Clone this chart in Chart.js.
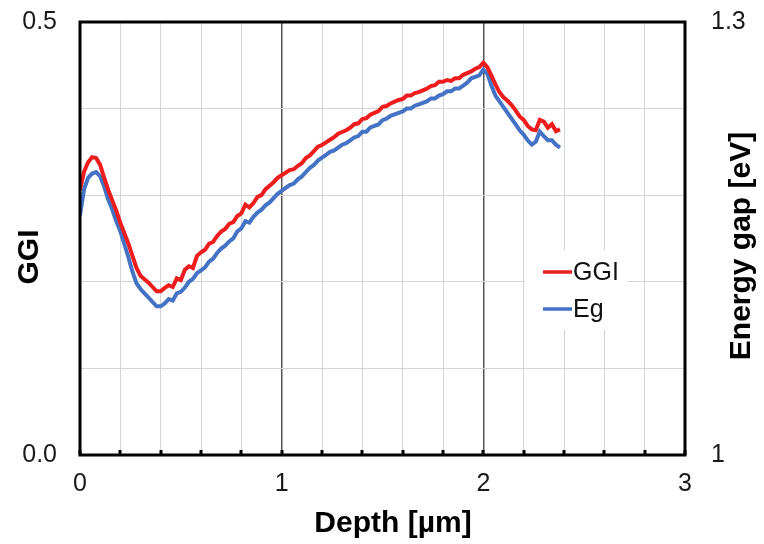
<!DOCTYPE html>
<html>
<head>
<meta charset="utf-8">
<script src="https://cdn.jsdelivr.net/npm/chart.js@4.4.1/dist/chart.umd.min.js"></script>
<style>
  html, body { margin: 0; padding: 0; background: #fff; }
  #wrap { width: 764px; height: 544px; }
</style>
</head>
<body>
<div id="wrap"><canvas id="c" width="764" height="544"></canvas></div>
<script>
// Depth profile (µm) with GGI on the left axis and band gap on the right axis
const depth = [
  0.00, 0.02, 0.04, 0.06, 0.08, 0.10, 0.12, 0.14, 0.16, 0.18,
  0.20, 0.22, 0.24, 0.26, 0.28, 0.30, 0.32, 0.34, 0.36, 0.38,
  0.40, 0.42, 0.44, 0.46, 0.48, 0.50, 0.52, 0.54, 0.56, 0.58,
  0.60, 0.62, 0.64, 0.66, 0.68, 0.70, 0.72, 0.74, 0.76, 0.78,
  0.80, 0.82, 0.84, 0.86, 0.88, 0.90, 0.92, 0.94, 0.96, 0.98,
  1.00, 1.02, 1.04, 1.06, 1.08, 1.10, 1.12, 1.14, 1.16, 1.18,
  1.20, 1.22, 1.24, 1.26, 1.28, 1.30, 1.32, 1.34, 1.36, 1.38,
  1.40, 1.42, 1.44, 1.46, 1.48, 1.50, 1.52, 1.54, 1.56, 1.58,
  1.60, 1.62, 1.64, 1.66, 1.68, 1.70, 1.72, 1.74, 1.76, 1.78,
  1.80, 1.82, 1.84, 1.86, 1.88, 1.90, 1.92, 1.94, 1.96, 1.98,
  2.00, 2.02, 2.04, 2.06, 2.08, 2.10, 2.12, 2.14, 2.16, 2.18,
  2.20, 2.22, 2.24, 2.26, 2.28, 2.30, 2.32, 2.34, 2.36, 2.38
];

const ggi = [
  0.306, 0.327, 0.338, 0.344, 0.343, 0.335, 0.320, 0.306, 0.294, 0.282,
  0.268, 0.256, 0.244, 0.230, 0.216, 0.207, 0.203, 0.199, 0.194, 0.189,
  0.189, 0.193, 0.196, 0.194, 0.204, 0.202, 0.214, 0.218, 0.216, 0.230,
  0.234, 0.237, 0.244, 0.246, 0.253, 0.258, 0.261, 0.267, 0.269, 0.276,
  0.279, 0.289, 0.286, 0.291, 0.298, 0.300, 0.307, 0.311, 0.315, 0.320,
  0.323, 0.326, 0.329, 0.330, 0.334, 0.337, 0.343, 0.346, 0.351, 0.356,
  0.358, 0.361, 0.364, 0.367, 0.371, 0.373, 0.375, 0.378, 0.382, 0.383,
  0.388, 0.389, 0.393, 0.395, 0.397, 0.402, 0.403, 0.406, 0.408, 0.410,
  0.411, 0.415, 0.415, 0.418, 0.419, 0.421, 0.423, 0.426, 0.427, 0.431,
  0.431, 0.433, 0.432, 0.435, 0.435, 0.439, 0.441, 0.443, 0.446, 0.448,
  0.453, 0.448, 0.438, 0.428, 0.419, 0.413, 0.409, 0.404, 0.398, 0.391,
  0.387, 0.380, 0.376, 0.375, 0.387, 0.385, 0.378, 0.382, 0.374, 0.376
];

const eg = [
  1.166, 1.184, 1.192, 1.195, 1.196, 1.193, 1.186, 1.177, 1.170, 1.162,
  1.155, 1.146, 1.137, 1.127, 1.119, 1.115, 1.112, 1.109, 1.106, 1.103,
  1.103, 1.105, 1.108, 1.107, 1.112, 1.113, 1.116, 1.120, 1.122, 1.126,
  1.128, 1.130, 1.134, 1.136, 1.140, 1.143, 1.145, 1.148, 1.150, 1.155,
  1.157, 1.162, 1.161, 1.165, 1.168, 1.170, 1.173, 1.175, 1.178, 1.181,
  1.183, 1.185, 1.187, 1.188, 1.191, 1.193, 1.196, 1.199, 1.201, 1.204,
  1.206, 1.208, 1.210, 1.211, 1.213, 1.215, 1.216, 1.218, 1.220, 1.221,
  1.224, 1.224, 1.227, 1.228, 1.229, 1.232, 1.233, 1.235, 1.236, 1.237,
  1.238, 1.240, 1.240, 1.242, 1.243, 1.244, 1.245, 1.247, 1.247, 1.249,
  1.250, 1.252, 1.252, 1.254, 1.254, 1.256, 1.258, 1.261, 1.262, 1.263,
  1.267, 1.264, 1.256, 1.249, 1.245, 1.241, 1.237, 1.233, 1.229, 1.225,
  1.222, 1.218, 1.215, 1.217, 1.224, 1.221, 1.218, 1.218, 1.215, 1.213
];

const seriesNames = ['GGI', 'Eg'];
const seriesColors = ['#ee1c1c', '#4472c4'];
const xTickLabels = ['0', '1', '2', '3'];
const leftTickLabels = ['0.0', '0.5'];
const rightTickLabels = ['1', '1.3'];
const axisTitles = { x: 'Depth [µm]', left: 'GGI', right: 'Energy gap [eV]' };

const FONT = '"Liberation Sans", Arial, sans-serif';
const TICK_FONT = { family: FONT, size: 25 };

function near(a, b) { return Math.abs(a - b) < 1e-6; }

// vertical axes: fixed width, no extra room reserved above/below for labels
function fixVertical(width) {
  return s => {
    s.width = width;
    s.paddingTop = 0;
    s.paddingBottom = 0;
  };
}

// Frame, inner tick marks, axis titles and legend
const decor = {
  id: 'decor',
  beforeDatasetsDraw(chart) {
    const { ctx } = chart;
    ctx.save();
    ctx.fillStyle = '#fff';
    ctx.fillRect(525, 250, 102, 80);
    ctx.restore();
  },
  afterDatasetsDraw(chart) {
    const { ctx, chartArea: a, scales } = chart;
    const xs = scales.x;
    ctx.save();
    // minor tick marks along the bottom edge
    ctx.fillStyle = '#000';
    for (let v = 0; v <= 3.0001; v += 0.2) {
      const px = Math.round(xs.getPixelForValue(v));
      ctx.fillRect(px - 1.5, a.bottom - 5, 3, 5);
    }
    // plot frame
    ctx.strokeStyle = '#000';
    ctx.lineWidth = 3;
    ctx.strokeRect(a.left, a.top, a.right - a.left, a.bottom - a.top);

    // legend
    ctx.lineWidth = 3.5;
    ctx.font = '25px ' + FONT;
    ctx.textBaseline = 'middle';
    ctx.textAlign = 'left';
    const rows = [272, 309];
    seriesNames.forEach((n, i) => {
      ctx.strokeStyle = seriesColors[i];
      ctx.beginPath();
      ctx.moveTo(543, rows[i]);
      ctx.lineTo(572, rows[i]);
      ctx.stroke();
      ctx.fillStyle = '#111';
      ctx.fillText(n, 573, rows[i] + 1);
    });

    // axis titles
    ctx.fillStyle = '#000';
    ctx.font = 'bold 30px ' + FONT;
    ctx.textAlign = 'center';
    ctx.textBaseline = 'alphabetic';
    ctx.fillText(axisTitles.x, 393, 532);

    ctx.save();
    ctx.translate(38, 257);
    ctx.rotate(-Math.PI / 2);
    ctx.fillText(axisTitles.left, 0, 0);
    ctx.restore();

    ctx.save();
    ctx.translate(750, 246);
    ctx.rotate(-Math.PI / 2);
    ctx.fillText(axisTitles.right, 0, 0);
    ctx.restore();

    ctx.restore();
  }
};

new Chart(document.getElementById('c'), {
  type: 'line',
  data: {
    datasets: [
      {
        label: seriesNames[0],
        data: depth.map((d, i) => ({ x: d, y: ggi[i] })),
        yAxisID: 'y',
        borderColor: seriesColors[0],
        borderWidth: 4,
        pointRadius: 0,
        tension: 0,
        fill: false
      },
      {
        label: seriesNames[1],
        data: depth.map((d, i) => ({ x: d, y: eg[i] })),
        yAxisID: 'y1',
        borderColor: seriesColors[1],
        borderWidth: 4,
        pointRadius: 0,
        tension: 0,
        fill: false
      }
    ]
  },
  options: {
    responsive: false,
    animation: false,
    devicePixelRatio: 1,
    layout: { padding: { top: 22, left: 0, right: 0, bottom: 0 } },
    plugins: { legend: { display: false }, tooltip: { enabled: false } },
    scales: {
      x: {
        type: 'linear',
        min: 0,
        max: 3,
        ticks: {
          stepSize: 0.2,
          autoSkip: false,
          maxRotation: 0,
          padding: 14,
          color: '#1a1a1a',
          font: TICK_FONT,
          callback: v => {
            const k = xTickLabels.findIndex(t => near(parseFloat(t), v));
            return k >= 0 ? xTickLabels[k] : '';
          }
        },
        grid: {
          drawTicks: false,
          color: ctx => {
            const v = ctx.tick ? ctx.tick.value : 0;
            return (near(v, 1) || near(v, 2)) ? '#555555' : '#d4d4d4';
          },
          lineWidth: ctx => {
            const v = ctx.tick ? ctx.tick.value : 0;
            return (near(v, 1) || near(v, 2)) ? 1.5 : 1;
          }
        },
        border: { display: false },
        afterFit: s => { s.height = 89; }
      },
      y: {
        position: 'left',
        min: 0,
        max: 0.5,
        ticks: {
          stepSize: 0.1,
          padding: 23,
          color: '#1a1a1a',
          font: TICK_FONT,
          callback: v => {
            if (near(v, 0)) return leftTickLabels[0];
            if (near(v, 0.5)) return leftTickLabels[1];
            return '';
          }
        },
        grid: { drawTicks: false, color: '#d4d4d4', lineWidth: 1 },
        border: { display: false },
        afterFit: fixVertical(80)
      },
      y1: {
        position: 'right',
        min: 1,
        max: 1.3,
        ticks: {
          stepSize: 0.1,
          padding: 26,
          color: '#1a1a1a',
          font: TICK_FONT,
          callback: v => {
            if (near(v, 1)) return rightTickLabels[0];
            if (near(v, 1.3)) return rightTickLabels[1];
            return '';
          }
        },
        grid: { display: false, drawTicks: false },
        border: { display: false },
        afterFit: fixVertical(79)
      }
    }
  },
  plugins: [decor]
});
</script>
</body>
</html>
